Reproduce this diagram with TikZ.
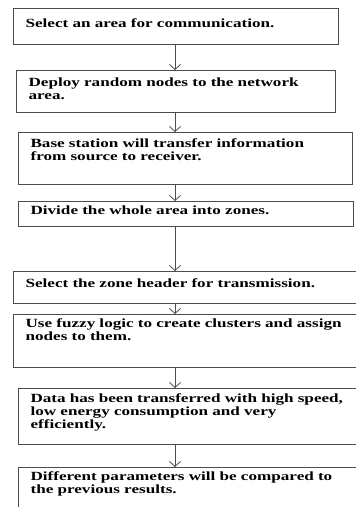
\documentclass[tikz,border=0pt]{standalone}
\usepackage{fontspec}
\setmainfont{Liberation Serif}[FakeStretch=1.37]
\usetikzlibrary{arrows.meta}

\begin{document}
\begin{tikzpicture}[x=1pt,y=-1pt]
		\tikzset{stepbox/.style={draw=black!70, line width=1.1pt, anchor=north west,
				align=left, inner xsep=12pt, inner ysep=0pt,
				font=\fontsize{12.5}{13}\selectfont\bfseries}}
		\tikzset{flow/.style={draw=black!70, line width=0.8pt,
				-{Straight Barb[length=5pt,width=11pt]}}}
		\clip (0,0) rectangle (356,507);
		\coordinate (axis) at (175,0);
		%steps
		\node[stepbox, text width=301pt, text height=19pt, text depth=17pt] (s1) at (13,8)
			{Select an area for communication.};
		\node[stepbox, text width=295pt, text height=16pt, text depth=26pt] (s2) at (16,70)
			{Deploy random nodes to the network\\area.};
		\node[stepbox, text width=310pt, text height=15pt, text depth=37pt] (s3) at (18,132)
			{Base station will transfer information\\from source to receiver.};
		\node[stepbox, text width=311pt, text height=13pt, text depth=12pt] (s4) at (18,201)
			{Divide the whole area into zones.};
		\node[stepbox, text width=326pt, text height=16pt, text depth=16pt] (s5) at (13,271)
			{Select the zone header for transmission.};
		\node[stepbox, text width=336pt, text height=13pt, text depth=40pt] (s6) at (13,314)
			{Use fuzzy logic to create clusters and assign\\nodes to them.};
		\node[stepbox, text width=326pt, text height=14pt, text depth=42pt] (s7) at (18,388)
			{Data has been transferred with high speed,\\low energy consumption and very\\efficiently.};
		\node[stepbox, text width=326pt, text height=13pt, text depth=40pt] (s8) at (18,467)
			{Different parameters will be compared to\\the previous results.};
		%arrows
		\foreach \a/\b in {s1/s2, s2/s3, s3/s4, s4/s5, s5/s6, s6/s7, s7/s8}
			\draw[flow] (\a.south -| axis) -- (\b.north -| axis);
\end{tikzpicture}
\end{document}
